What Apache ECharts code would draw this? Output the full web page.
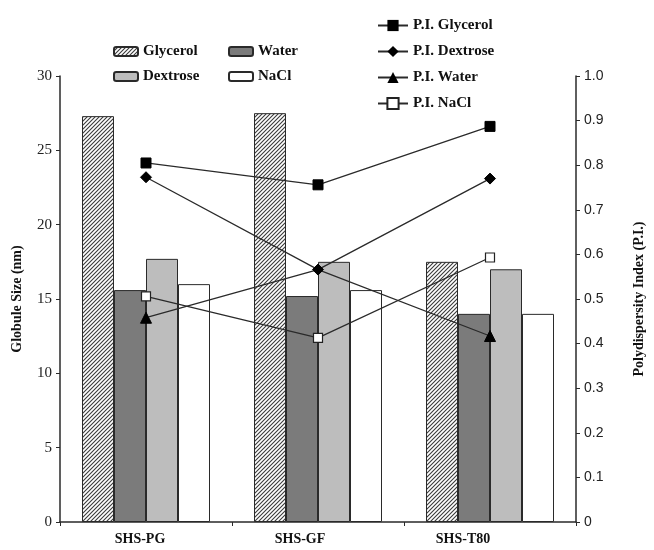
<!DOCTYPE html>
<html>
<head>
<meta charset="utf-8">
<script src="https://cdn.jsdelivr.net/npm/echarts@6/dist/echarts.min.js"></script>
<style>html,body{margin:0;padding:0;background:#fff;}#c{width:654px;height:550px;}</style>
</head>
<body>
<div id="c"></div>
<script>
// ---- data ----
var categories = ['SHS-PG', 'SHS-GF', 'SHS-T80'];
var glycerol = [27.3, 27.5, 17.5];
var water = [15.6, 15.2, 14.0];
var dextrose = [17.7, 17.5, 17.0];
var nacl = [16.0, 15.6, 14.0];
var piGlycerol = [0.805, 0.756, 0.887];
var piDextrose = [0.773, 0.566, 0.77];
var piWater = [0.458, 0.566, 0.417];
var piNaCl = [0.506, 0.413, 0.593];
var leftTicks = [0, 5, 10, 15, 20, 25, 30];
var rightTicks = [0, 0.1, 0.2, 0.3, 0.4, 0.5, 0.6, 0.7, 0.8, 0.9, 1.0];

// hatch pattern
var pc = document.createElement('canvas');
pc.width = 4; pc.height = 4;
var g = pc.getContext('2d');
g.fillStyle = '#fff'; g.fillRect(0, 0, 4, 4);
g.strokeStyle = '#3a3a3a'; g.lineWidth = 1.1;
g.beginPath();
g.moveTo(0, 4); g.lineTo(4, 0);
g.moveTo(-1, 1); g.lineTo(1, -1);
g.moveTo(3, 5); g.lineTo(5, 3);
g.stroke();
var hatch = {image: pc, repeat: 'repeat'};

var serif = '"Liberation Serif", "DejaVu Serif", serif';
var sans = '"Liberation Sans", Arial, sans-serif';
var ink = '#2a2a2a';

// the water marker at SHS-GF is hidden beneath the dextrose diamond in the reference
var waterData = piWater.map(function (v, i) {
  return v === piDextrose[i] ? {value: v, symbolSize: 0} : v;
});

var chart = echarts.init(document.getElementById('c'));
function barLegend(name, left, top) {
  return {
    data: [name], left: left, top: top, orient: 'horizontal',
    itemWidth: 24, itemHeight: 9, itemGap: 6,
    textStyle: {fontFamily: serif, fontWeight: 'bold', fontSize: 15, color: '#111'}
  };
}
var barStyle = function (c) { return {color: c, borderColor: ink, borderWidth: 1}; };
chart.setOption({
  animation: false,
  backgroundColor: '#fff',
  grid: {left: 60, right: 76, top: 76, bottom: 28, containLabel: false},
  legend: [
    barLegend('Glycerol', 108, 39),
    barLegend('Water', 223, 39),
    barLegend('Dextrose', 108, 64),
    barLegend('NaCl', 223, 64),
    {
      data: ['P.I. Glycerol', 'P.I. Dextrose', 'P.I. Water', 'P.I. NaCl'],
      left: 372, top: 13, orient: 'vertical', itemGap: 11,
      itemWidth: 30, itemHeight: 14,
      textStyle: {fontFamily: serif, fontWeight: 'bold', fontSize: 15, color: '#111'}
    }
  ],
  xAxis: {
    type: 'category', data: categories,
    axisLine: {lineStyle: {color: ink, width: 1.5}},
    axisTick: {show: true, length: 4, lineStyle: {color: ink}},
    axisLabel: {
      margin: 10, color: '#111', fontFamily: serif, fontWeight: 'bold', fontSize: 14,
      formatter: function (v, i) { return '{c' + i + '|' + v + '}'; },
      rich: {
        c0: {padding: [0, 12, 0, 0], fontFamily: serif, fontWeight: 'bold', fontSize: 14, color: '#111'},
        c1: {padding: [0, 36, 0, 0], fontFamily: serif, fontWeight: 'bold', fontSize: 14, color: '#111'},
        c2: {padding: [0, 54, 0, 0], fontFamily: serif, fontWeight: 'bold', fontSize: 14, color: '#111'}
      }
    },
    splitLine: {show: false}
  },
  yAxis: [
    {
      type: 'value', min: leftTicks[0], max: leftTicks[leftTicks.length - 1], interval: 5,
      name: 'Globule Size (nm)', nameLocation: 'middle', nameGap: 36, nameRotate: 90,
      nameTextStyle: {fontFamily: serif, fontWeight: 'bold', fontSize: 14, color: '#111'},
      axisLine: {show: true, lineStyle: {color: ink, width: 1.5}},
      axisTick: {show: true, length: 4, lineStyle: {color: ink}},
      axisLabel: {margin: 8, fontFamily: serif, fontSize: 15, color: '#222'},
      splitLine: {show: false}
    },
    {
      type: 'value', min: rightTicks[0], max: rightTicks[rightTicks.length - 1], interval: 0.1,
      position: 'right',
      name: 'Polydispersity Index (P.I.)', nameLocation: 'middle', nameGap: 56, nameRotate: 90,
      nameTextStyle: {fontFamily: serif, fontWeight: 'bold', fontSize: 14, color: '#111'},
      axisLine: {show: true, lineStyle: {color: ink, width: 1.5}},
      axisTick: {show: true, length: 4, lineStyle: {color: ink}},
      axisLabel: {margin: 8, fontFamily: sans, fontSize: 14, color: '#222',
        formatter: function (v) { return v === 0 ? '0' : v.toFixed(1); }},
      splitLine: {show: false}
    }
  ],
  series: [
    {name: 'Glycerol', type: 'bar', data: glycerol, barWidth: 32, barGap: '0%', itemStyle: barStyle(hatch)},
    {name: 'Water', type: 'bar', data: water, barWidth: 32, barGap: '0%', itemStyle: barStyle('#7b7b7b')},
    {name: 'Dextrose', type: 'bar', data: dextrose, barWidth: 32, barGap: '0%', itemStyle: barStyle('#bdbdbd')},
    {name: 'NaCl', type: 'bar', data: nacl, barWidth: 32, barGap: '0%', itemStyle: barStyle('#ffffff')},
    {name: 'P.I. Glycerol', type: 'line', yAxisIndex: 1, data: piGlycerol, symbol: 'rect', symbolSize: 10,
      lineStyle: {color: ink, width: 1.3}, itemStyle: {color: '#000', borderColor: '#000'}, z: 5},
    {name: 'P.I. Dextrose', type: 'line', yAxisIndex: 1, data: piDextrose, symbol: 'diamond', symbolSize: 11,
      lineStyle: {color: ink, width: 1.3}, itemStyle: {color: '#000', borderColor: '#000'}, z: 7},
    {name: 'P.I. Water', type: 'line', yAxisIndex: 1, data: waterData, symbol: 'triangle', symbolSize: 11,
      lineStyle: {color: ink, width: 1.3}, itemStyle: {color: '#000', borderColor: '#000'}, z: 5},
    {name: 'P.I. NaCl', type: 'line', yAxisIndex: 1, data: piNaCl, symbol: 'rect', symbolSize: 9,
      lineStyle: {color: ink, width: 1.3}, itemStyle: {color: '#fff', borderColor: '#222', borderWidth: 1.2}, z: 5}
  ]
});
</script>
</body>
</html>
